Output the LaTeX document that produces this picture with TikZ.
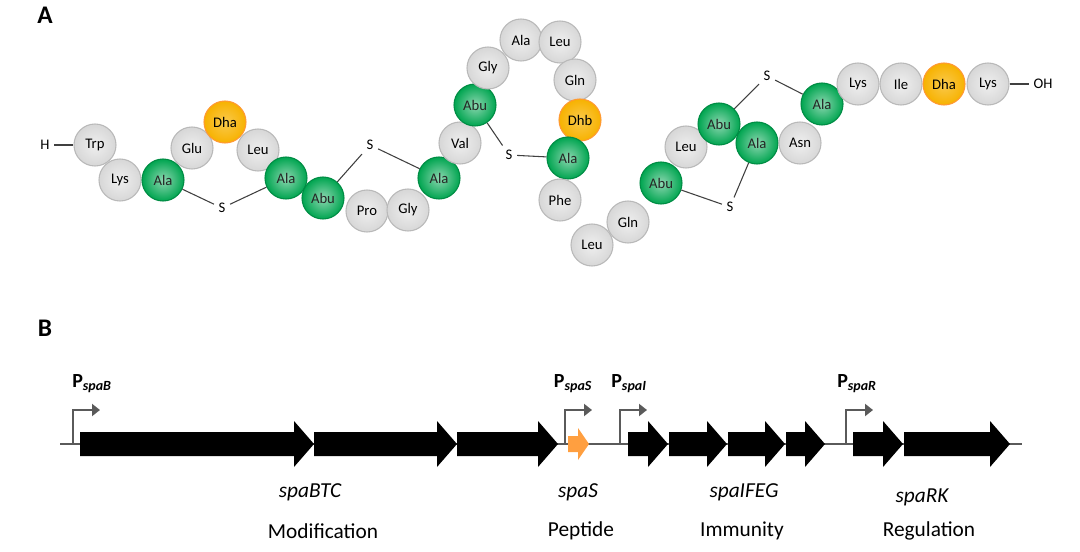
\documentclass[tikz,border=0pt]{standalone}
\usepackage{fontspec}
\setmainfont{Carlito}
\usetikzlibrary{arrows.meta}
\definecolor{aagreen}{RGB}{0,165,80}
\definecolor{aaorange}{RGB}{247,178,0}
\definecolor{aagray}{RGB}{215,215,215}
\definecolor{promo}{RGB}{90,90,90}
\begin{document}
\begin{tikzpicture}[x=0.75pt,y=-0.75pt,
 aa/.style={circle,minimum size=31.5pt,inner sep=0pt,font=\fontsize{11}{13}\selectfont,draw=gray!55,line width=0.8pt},
 g/.style={aa,inner color=aagray!40,outer color=aagray},
 gr/.style={aa,draw=aagreen!85!black,inner color=aagreen!45,outer color=aagreen,text=black!85},
 or/.style={aa,draw=orange!80,inner color=aaorange!70,outer color=aaorange},
 lbl/.style={font=\fontsize{11}{13}\selectfont},
 bond/.style={draw=black!75,line width=0.8pt},
 prom/.style={draw=promo,line width=1.6pt,-{Triangle[length=6pt,width=9pt]}},
 big/.style={font=\fontsize{16}{19}\selectfont},
 it/.style={font=\fontsize{16}{19}\selectfont\itshape},
 pl/.style={font=\fontsize{15}{17}\selectfont\bfseries},
 hd/.style={font=\fontsize{19}{22}\selectfont\bfseries}]
\useasboundingbox (0,0) rectangle (1080,552);
\node[hd] (A) at (45,15) {A};
\node[hd] (B) at (45,328) {B};
% chain
\node[lbl] (H) at (45,145) {H};
\node[g] (trp) at (95,145) {Trp};
\node[g] (lys1) at (120,180) {Lys};
\node[gr] (ala1) at (163,180) {Ala};
\node[g] (glu) at (192,148) {Glu};
\node[or] (dha1) at (225,122) {Dha};
\node[g] (leu1) at (258,150) {Leu};
\node[gr] (ala2) at (286,178) {Ala};
\node[gr] (abu1) at (323,198) {Abu};
\node[g] (pro) at (367,211) {Pro};
\node[g] (gly1) at (408,210) {Gly};
\node[gr] (ala3) at (439,178) {Ala};
\node[g] (val) at (460,143) {Val};
\node[gr] (abu2) at (475,105) {Abu};
\node[g] (gly2) at (488,68) {Gly};
\node[g] (ala4) at (521,40) {Ala};
\node[g] (leu2) at (560,42) {Leu};
\node[g] (gln1) at (575,80) {Gln};
\node[or] (dhb) at (580,120) {Dhb};
\node[gr] (ala5) at (568,158) {Ala};
\node[g] (phe) at (560,200) {Phe};
\node[g] (leu3) at (592,245) {Leu};
\node[g] (gln2) at (628,222) {Gln};
\node[gr] (abu3) at (661,183) {Abu};
\node[g] (leu4) at (686,147) {Leu};
\node[gr] (abu4) at (719,124) {Abu};
\node[gr] (ala6) at (757,143) {Ala};
\node[g] (asn) at (800,143) {Asn};
\node[gr] (ala7) at (822,104) {Ala};
\node[g] (lys2) at (858,84) {Lys};
\node[g] (ile) at (901,84) {Ile};
\node[or] (dha2) at (944,84) {Dha};
\node[g] (lys3) at (988,84) {Lys};
\node[lbl] (oh) at (1043,84) {OH};
\node[lbl] (s1) at (222,208) {S};
\node[lbl] (s2) at (370,145) {S};
\node[lbl] (s3) at (509,155) {S};
\node[lbl] (s4) at (767,76) {S};
\node[lbl] (s5) at (730,207) {S};
\draw[bond] (H) -- (trp);
\draw[bond] (lys3) -- (oh);
\draw[bond] (ala1) -- (s1) -- (ala2);
\draw[bond] (abu1) -- (s2) -- (ala3);
\draw[bond] (abu2) -- (s3) -- (ala5);
\draw[bond] (abu4) -- (s4) -- (ala7);
\draw[bond] (abu3) -- (s5) -- (ala6);
% Part B
\coordinate (l0) at (60,444);
\coordinate (l1) at (1022,444);
\draw[draw=promo,line width=1.2pt] (l0) -- (l1);
\newcommand\gn[3]{\fill[#3] (#1,432) -- ({#2-20},432) -- ({#2-20},421) -- (#2,444) -- ({#2-20},467) -- ({#2-20},456) -- (#1,456) -- cycle;}
\gn{80}{314}{black}
\gn{314}{457}{black}
\gn{457}{558}{black}
\fill[orange!75] (568,436) -- (578,436) -- (578,428) -- (589,444) -- (578,460) -- (578,452) -- (568,452) -- cycle;
\gn{628}{668}{black}
\gn{669}{727}{black}
\gn{728}{785}{black}
\gn{786}{825}{black}
\gn{853}{903}{black}
\gn{904}{1010}{black}
\coordinate (p1) at (73,444); \draw[prom] (p1) |- (100,410);
\coordinate (p2) at (565,444); \draw[prom] (p2) |- (592,410);
\coordinate (p3) at (620,444); \draw[prom] (p3) |- (647,410);
\coordinate (p4) at (846,444); \draw[prom] (p4) |- (873,410);
\node[pl] (tp1) at (92,384) {P\textsubscript{\itshape spaB}};
\node[pl] (tp2) at (573,384) {P\textsubscript{\itshape spaS}};
\node[pl] (tp3) at (629,384) {P\textsubscript{\itshape spaI}};
\node[pl] (tp4) at (857,384) {P\textsubscript{\itshape spaR}};
\node[it] (g1) at (310,492) {spaBTC};
\node[big] (f1) at (323,531) {Modification};
\node[it] (g2) at (578,492) {spaS};
\node[big] (f2) at (581,531) {Peptide};
\node[it] (g3) at (744,492) {spaIFEG};
\node[big] (f3) at (742,531) {Immunity};
\node[it] (g4) at (922,497) {spaRK};
\node[big] (f4) at (929,531) {Regulation};
\end{tikzpicture}
\end{document}
